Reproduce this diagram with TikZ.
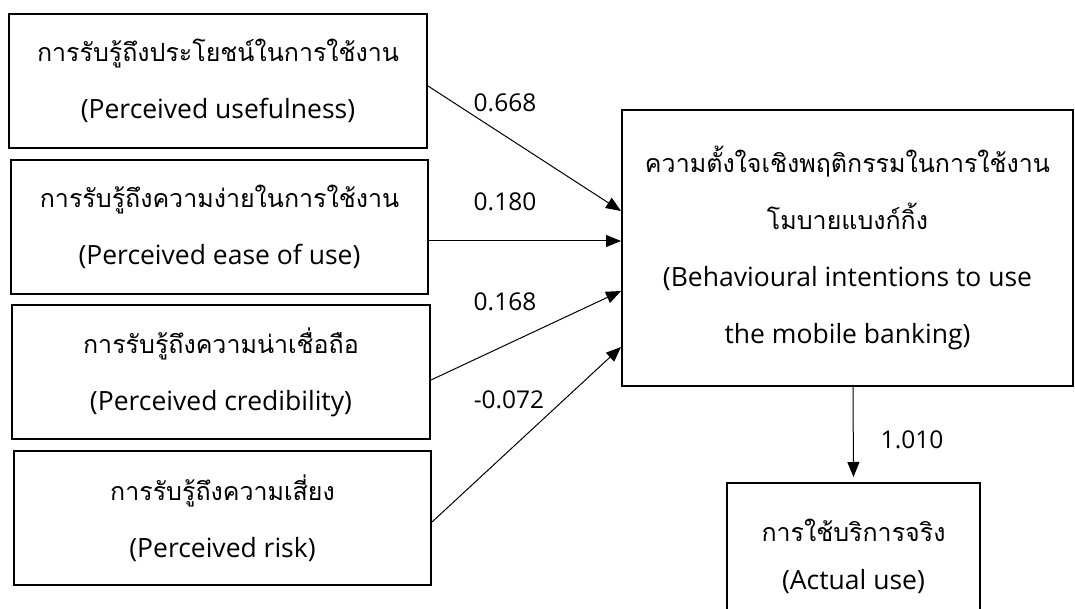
\documentclass[tikz,border=0pt]{standalone}
\usepackage{fontspec}
\setmainfont[Script=Thai]{Loma}
\newfontfamily\en{Open Sans}
\newcommand{\enl}[1]{{\en\fontsize{26.5}{57}\selectfont #1}}
\usetikzlibrary{arrows.meta}
\tikzset{
  box/.style={draw, line width=2pt, align=center, inner sep=0pt, font=\fontsize{25}{57}\selectfont},
  arr/.style={line width=1pt, -{Triangle[length=15pt,width=12pt]}},
  lbl/.style={font=\en\fontsize{24.5}{28}\selectfont, inner sep=0pt}
}
\begin{document}
\begin{tikzpicture}[x=1pt,y=-1pt]
\useasboundingbox (0,0) rectangle (1075,609);
\clip (0,0) rectangle (1075,609);
\node[box, minimum width=418pt, minimum height=134pt] (b1) at (218,81) {การรับรู้ถึงประโยชน์ในการใช้งาน\\\enl{(Perceived usefulness)}};
\node[box, minimum width=417pt, minimum height=134pt] (b2) at (219.5,227) {การรับรู้ถึงความง่ายในการใช้งาน\\\enl{(Perceived ease of use)}};
\node[box, minimum width=418pt, minimum height=134pt] (b3) at (221,372) {การรับรู้ถึงความน่าเชื่อถือ\\\enl{(Perceived credibility)}};
\node[box, minimum width=417pt, minimum height=134pt] (b4) at (222.5,518) {การรับรู้ถึงความเสี่ยง\\\enl{(Perceived risk)}};
\node[box, minimum width=451pt, minimum height=276pt] (big) at (847.5,248) {ความตั้งใจเชิงพฤติกรรมในการใช้งาน\\โมบายแบงก์กิ้ง\\\enl{(Behavioural intentions to use}\\\enl{the mobile banking)}};
\node[box, minimum width=253pt, minimum height=146pt, font=\fontsize{25}{48}\selectfont] (act) at (853.5,556) {การใช้บริการจริง\\\enl{(Actual use)}};
\draw[arr] ([yshift=-5pt]b1.east) -- ([yshift=37pt]big.west);
\draw[arr] ([yshift=-14pt]b2.east) -- ([yshift=7pt]big.west);
\draw[arr] ([yshift=-8pt]b3.east) -- ([yshift=-43pt]big.west);
\draw[arr] ([yshift=-4pt]b4.east) -- ([yshift=-99pt]big.west);
\draw[arr, shorten >=5pt] ([xshift=5.5pt]big.south) -- (act.north);
\node[lbl] (l1) at (505,103) {0.668};
\node[lbl] (l2) at (505,202) {0.180};
\node[lbl] (l3) at (505,302) {0.168};
\node[lbl] (l4) at (509,400) {-0.072};
\node[lbl] (l5) at (912,440) {1.010};
\end{tikzpicture}
\end{document}
